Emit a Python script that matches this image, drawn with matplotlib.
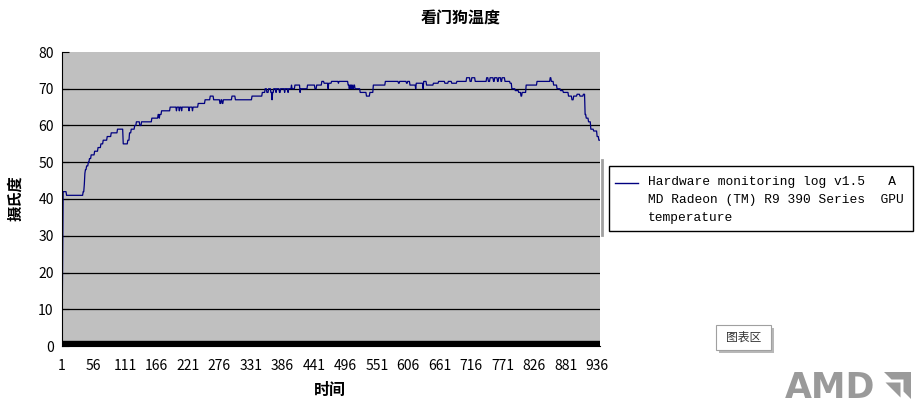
import numpy as np
import matplotlib
matplotlib.use("Agg")
import matplotlib.pyplot as plt
from matplotlib.patches import Rectangle, Polygon
from matplotlib.lines import Line2D

plt.rcParams['font.family'] = ['Noto Sans CJK SC', 'DejaVu Sans']

title = "看门狗温度"
x_label = "时间"
y_label = "摄氏度"
series_name = ("Hardware monitoring log v1.5   A\n"
               "MD Radeon (TM) R9 390 Series  GPU\n"
               "temperature")

n_samples = 941
x_ticks = list(range(1, n_samples, 55))
y_ticks = list(range(0, 81, 10))

# GPU temperature log, read off the picture as step runs:
# sample index where a new reading starts, and the reading held from there
seg_start = [1, 2, 3, 9, 38, 40, 41, 42, 44, 47, 49, 52, 58, 64, 69, 73, 80, 87, 98,
             108, 116, 119, 122, 128, 131, 137, 140, 158, 169, 171, 172, 175, 190,
             201, 202, 206, 207, 210, 211, 223, 224, 229, 230, 239, 251, 260, 266,
             277, 279, 281, 283, 298, 304, 333, 351, 356, 359, 362, 366, 368, 369,
             371, 375, 376, 381, 383, 390, 391, 396, 397, 402, 403, 408, 417, 418,
             430, 443, 446, 455, 459, 466, 467, 472, 484, 485, 501, 503, 504, 506,
             507, 509, 511, 513, 522, 533, 539, 545, 566, 589, 591, 603, 605, 609,
             619, 620, 632, 633, 638, 650, 659, 670, 676, 682, 691, 708, 714, 717,
             723, 743, 746, 749, 755, 757, 762, 764, 768, 770, 775, 784, 787, 793,
             799, 803, 805, 812, 831, 854, 856, 860, 866, 872, 877, 886, 892, 895,
             901, 906, 912, 915, 917, 921, 925, 930, 936, 939]
seg_temp = [0, 21, 42, 41, 42, 44, 47, 48, 49, 50, 51, 52, 53, 54, 55, 56, 57, 58, 59,
            55, 56, 58, 59, 60, 61, 60, 61, 62, 63, 62, 63, 64, 65,
            64, 65, 64, 65, 64, 65, 64, 65, 64, 65, 66, 67, 68, 67,
            66, 67, 66, 67, 68, 67, 68, 69, 70, 69, 70, 69, 67, 69,
            70, 69, 70, 69, 70, 69, 70, 69, 70, 71, 70, 71, 69, 70,
            71, 70, 71, 72, 71.5, 70, 71.5, 72, 71.5, 72, 71, 70, 71, 70,
            71, 70, 71, 70, 69, 68, 69, 71, 72, 71.5, 72, 71.5, 72, 71,
            70, 71.5, 70, 72, 71, 71.5, 72, 71.5, 72, 71.5, 72, 73, 72, 73,
            72, 73, 72, 73, 72, 73, 72, 73, 72, 73, 72, 71.5, 70, 69.5,
            69, 68, 69, 71, 72, 73, 72, 71, 70, 69.5, 69, 68, 67, 68,
            68.5, 68, 68.5, 63, 62, 61, 59, 58.5, 57, 56]

lengths = np.diff(seg_start + [n_samples + 1])
temps = np.repeat(seg_temp, lengths)
samples = np.arange(1, n_samples + 1)

W, H = 921, 408
fig = plt.figure(figsize=(W / 100, H / 100), dpi=100)


def fx(px):
    return px / W


def fy(py):
    return 1 - py / H


ax = fig.add_axes([fx(62), fy(346), fx(600) - fx(62), fy(52) - fy(346)])
ax.set_facecolor('#c0c0c0')
ax.plot(samples, temps, color='#000080', lw=0.9)
ax.set_xlim(1, n_samples)
ax.set_ylim(0, 80)
ax.set_yticks(y_ticks)
ax.set_xticks(x_ticks)
for v in y_ticks[1:-1]:
    ax.axhline(v, color='black', lw=0.9, zorder=1)
ax.axhspan(0, 1.4, color='black', zorder=3)
for s in ['top', 'right']:
    ax.spines[s].set_visible(False)
ax.spines['left'].set_color('black')
ax.spines['bottom'].set_color('black')
ax.tick_params(axis='y', direction='in', length=5, width=0.8, pad=6, labelsize=10)
ax.tick_params(axis='x', length=0, pad=9, labelsize=10)

fig.text(0.5, fy(19), title, ha='center', va='center', fontsize=11.5, fontweight='bold')
fig.text(fx(330), fy(390), x_label, ha='center', va='center', fontsize=11.5, fontweight='bold')
fig.text(fx(15), fy(198), y_label, ha='center', va='center', rotation=90,
         fontsize=11, fontweight='bold')

# legend box
fig.patches.append(Rectangle((fx(609), fy(231)), fx(913) - fx(609), fy(166) - fy(231),
                             transform=fig.transFigure, fill=False, edgecolor='black', lw=1))
fig.lines.append(Line2D([fx(615), fx(638)], [fy(183), fy(183)], transform=fig.transFigure,
                        color='#000080', lw=1))
fig.text(fx(648), fy(176), series_name, ha='left', va='top', fontsize=9.3,
         family=['Liberation Mono', 'DejaVu Sans Mono'], linespacing=1.68)
fig.lines.append(Line2D([fx(602), fx(602)], [fy(160), fy(235)], transform=fig.transFigure,
                        color='#a0a0a0', lw=2))

# "图表区" tooltip
fig.patches.append(Rectangle((fx(719), fy(353)), fx(771) - fx(716), fy(325) - fy(350),
                             transform=fig.transFigure, facecolor='#b8b8b8', edgecolor='none'))
fig.patches.append(Rectangle((fx(716), fy(350)), fx(771) - fx(716), fy(325) - fy(350),
                             transform=fig.transFigure, facecolor='white', edgecolor='#a0a0a0', lw=0.8))
fig.text(fx(743.5), fy(337.5), "图表区", ha='center', va='center', fontsize=8.5, color='#333333')

# AMD watermark
fig.text(fx(785), fy(398), "AMD", ha='left', va='baseline', fontsize=25,
         fontweight='bold', color='#9a9a9a', family='DejaVu Sans')
lx0, ly0, ls = 884, 399, 30


def logo(pts):
    return [(fx(lx0 + a * ls), fy(ly0 - b * ls)) for a, b in pts]


fig.patches.append(Polygon(logo([(0, 0.9), (0.9, 0.9), (0.9, 0), (0.65, 0.25), (0.65, 0.65), (0.25, 0.65)]),
                           closed=True, transform=fig.transFigure, facecolor='#9a9a9a', edgecolor='none'))
fig.patches.append(Polygon(logo([(0.05, 0.55), (0.55, 0.55), (0.55, 0.05), (0.3, 0.3)]),
                           closed=True, transform=fig.transFigure, facecolor='#9a9a9a', edgecolor='none'))

fig.savefig("out.png", dpi=100)
